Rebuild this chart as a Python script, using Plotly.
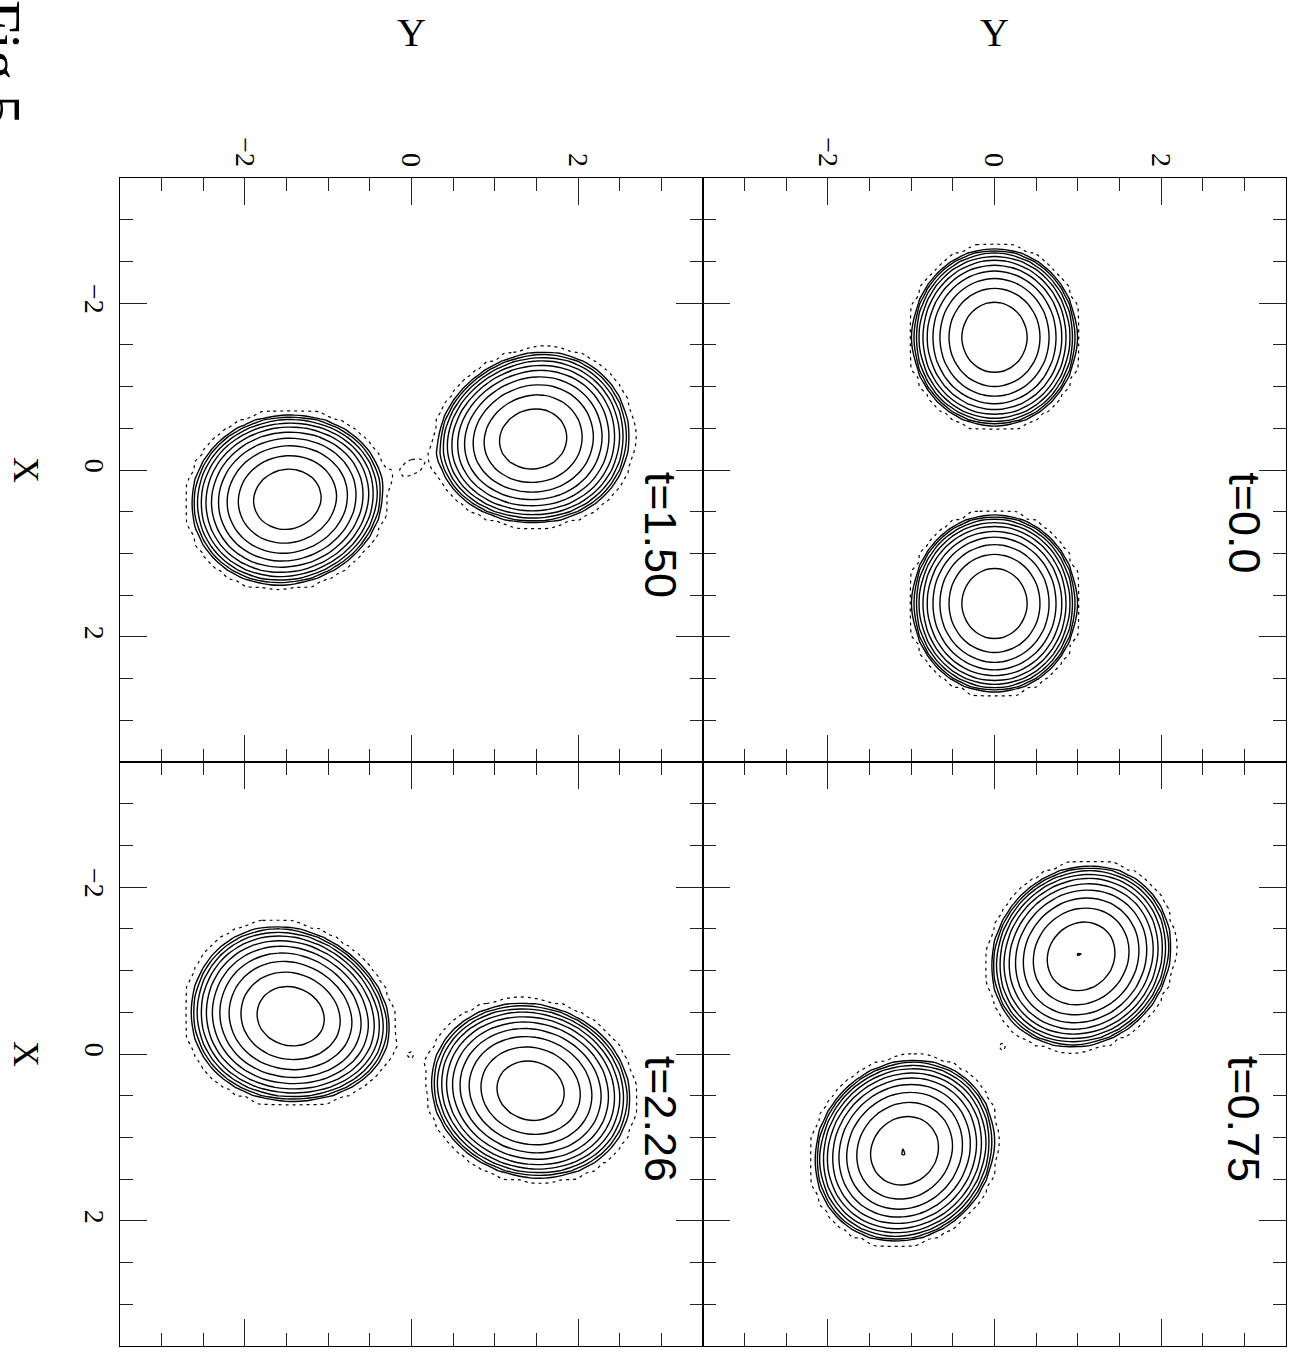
import numpy as np
import plotly.graph_objects as go

# ---------------- data ----------------
panel_labels = ["t=0.0", "t=0.75", "t=1.50", "t=2.26"]
panel_col = [1, 1, 0, 0]      # 0 = left column, 1 = right column
panel_row = [0, 1, 0, 1]      # 0 = top row, 1 = bottom row

# stars: panel, centre (Y horizontal, X vertical), axis angle, edge radii, concentration, egg, peak
star_panel = [0, 0, 1, 1, 2, 2, 3, 3]
star_y = [0.0, 0.0, 1.04, -1.08, 1.46, -1.49, -1.45, 1.43]
star_x = [-1.59, 1.60, -1.17, 1.16, -0.37, 0.35, -0.45, 0.44]
star_angle = [90.0, 90.0, -47.5, -47.5, -13.7, -13.7, 17.2, 17.2]
star_ra = [1.18, 1.18, 1.265, 1.265, 1.293, 1.293, 1.355, 1.355]
star_rb = [1.10, 1.10, 1.143, 1.143, 1.136, 1.136, 1.16, 1.16]
star_q = [1.0, 1.0, 0.925, 0.925, 0.893, 0.893, 0.861, 0.861]
star_egg = [0.0, 0.0, 0.0, 0.0, -0.08, 0.04, 0.10, 0.0]
star_amp = [0.99, 0.99, 1.006, 1.006, 0.99, 0.99, 0.99, 0.99]

# faint bridge material between the stars
bridge_panel = [1, 2, 3]
bridge_y = [0.09, 0.0, -0.02]
bridge_x = [-0.08, -0.03, 0.02]
bridge_angle = [0.0, -30.0, 0.0]
bridge_ra = [0.25, 0.45, 0.25]
bridge_rb = [0.25, 0.25, 0.25]
bridge_amp = [0.040, 0.046, 0.040]

# contour levels (log10 density)
solid_start, solid_end, solid_step = -1.0, 0.0, 0.1
dotted_level = -1.45

axis_range = [-3.5, 3.5]
tick_vals = [-2, 0, 2]
tick_text = ["\u22122", "0", "2"]

# ---------------- field ----------------
grid = np.linspace(-3.5, 3.5, 71)
YG, XG = np.meshgrid(grid, grid)   # rows follow X (vertical), columns follow Y (horizontal)


def blob(cy, cx, ang, ra, rb, q, egg, amp):
    a = np.deg2rad(ang)
    dy = YG - cy
    dx = XG - cx
    u = dy * np.cos(a) + dx * np.sin(a)
    v = -dy * np.sin(a) + dx * np.cos(a)
    rbe = rb * np.clip(1.0 - egg * u / ra, 0.3, None)
    n = np.sqrt((u / ra) ** 2 + (v / rbe) ** 2) ** q
    return amp * np.where(n < 1.0, np.sinc(n), 0.0)


W, H = 1291, 1353
col_px = [(120, 703), (703, 1286)]
row_px = [(178, 762), (762, 1346)]

fig = go.Figure()
layout = dict(
    width=W, height=H, margin=dict(l=0, r=0, t=0, b=0),
    paper_bgcolor="white", plot_bgcolor="white", showlegend=False,
)
annotations = []
black = [[0, "black"], [1, "black"]]

for p in range(4):
    rho = np.zeros_like(YG)
    for i in range(len(star_panel)):
        if star_panel[i] == p:
            rho += blob(star_y[i], star_x[i], star_angle[i], star_ra[i], star_rb[i],
                        star_q[i], star_egg[i], star_amp[i])
    for i in range(len(bridge_panel)):
        if bridge_panel[i] == p:
            rho += blob(bridge_y[i], bridge_x[i], bridge_angle[i], bridge_ra[i], bridge_rb[i],
                        1.0, 0.0, bridge_amp[i])
    z = np.log10(np.maximum(rho, 1e-5))

    sfx = "" if p == 0 else str(p + 1)
    xa, ya = "x" + sfx, "y" + sfx

    fig.add_trace(go.Contour(
        x=grid, y=grid, z=z, xaxis=xa, yaxis=ya, autocontour=False,
        contours=dict(start=solid_start, end=solid_end + 1e-9, size=solid_step,
                      coloring="lines", showlabels=False),
        colorscale=black, showscale=False, hoverinfo="skip",
        line=dict(width=1.4, smoothing=0.6),
    ))
    fig.add_trace(go.Contour(
        x=grid, y=grid, z=z, xaxis=xa, yaxis=ya, autocontour=False,
        contours=dict(start=dotted_level, end=dotted_level, size=1.0,
                      coloring="lines", showlabels=False),
        colorscale=black, showscale=False, hoverinfo="skip",
        line=dict(width=1.2, dash="3px,4px", smoothing=0.6),
    ))

    c, r = panel_col[p], panel_row[p]
    xd = [col_px[c][0] / W, col_px[c][1] / W]
    yd = [1 - row_px[r][1] / H, 1 - row_px[r][0] / H]
    common = dict(
        showgrid=False, zeroline=False, showline=True, linecolor="black", linewidth=1.2,
        mirror="ticks", ticks="inside", ticklen=27, tickwidth=1, tickcolor="#222222",
        tickmode="array", tickvals=tick_vals, ticktext=tick_text,
        tickangle=90, tickfont=dict(family="Liberation Serif", size=28, color="black"),
        minor=dict(ticks="inside", ticklen=13, tickwidth=1, tickcolor="#222222",
                   dtick=0.5, tick0=0, showgrid=False),
    )
    layout["xaxis" + sfx] = dict(
        common, domain=xd, range=axis_range, anchor=ya, side="top",
        showticklabels=(r == 0),
    )
    layout["yaxis" + sfx] = dict(
        common, domain=yd, range=axis_range[::-1], anchor=xa, side="left",
        showticklabels=(c == 0),
    )
    annotations.append(dict(
        text=panel_labels[p], xref=xa, yref=ya, x=3.0, y=0.0,
        xanchor="center", yanchor="top", textangle=90, showarrow=False,
        font=dict(family="Liberation Sans", size=45, color="black"),
    ))

# axis titles
for c in range(2):
    cx = (col_px[c][0] + col_px[c][1]) / 2
    annotations.append(dict(text="Y", xref="paper", yref="paper", x=cx / W, y=1 - 32 / H,
                            xanchor="center", yanchor="middle", showarrow=False,
                            font=dict(family="Liberation Serif", size=40, color="black")))
for r in range(2):
    cy = (row_px[r][0] + row_px[r][1]) / 2
    annotations.append(dict(text="X", xref="paper", yref="paper", x=26 / W, y=1 - cy / H,
                            xanchor="center", yanchor="middle", textangle=90, showarrow=False,
                            font=dict(family="Liberation Serif", size=36, color="black")))

annotations.append(dict(text="Fig 5", xref="paper", yref="paper", x=0.0, y=1 - 62 / H,
                        xanchor="center", yanchor="middle", textangle=90, showarrow=False,
                        font=dict(family="Liberation Serif", size=60, color="black")))

layout["annotations"] = annotations
fig.update_layout(**layout)
fig.write_html("out.html")
